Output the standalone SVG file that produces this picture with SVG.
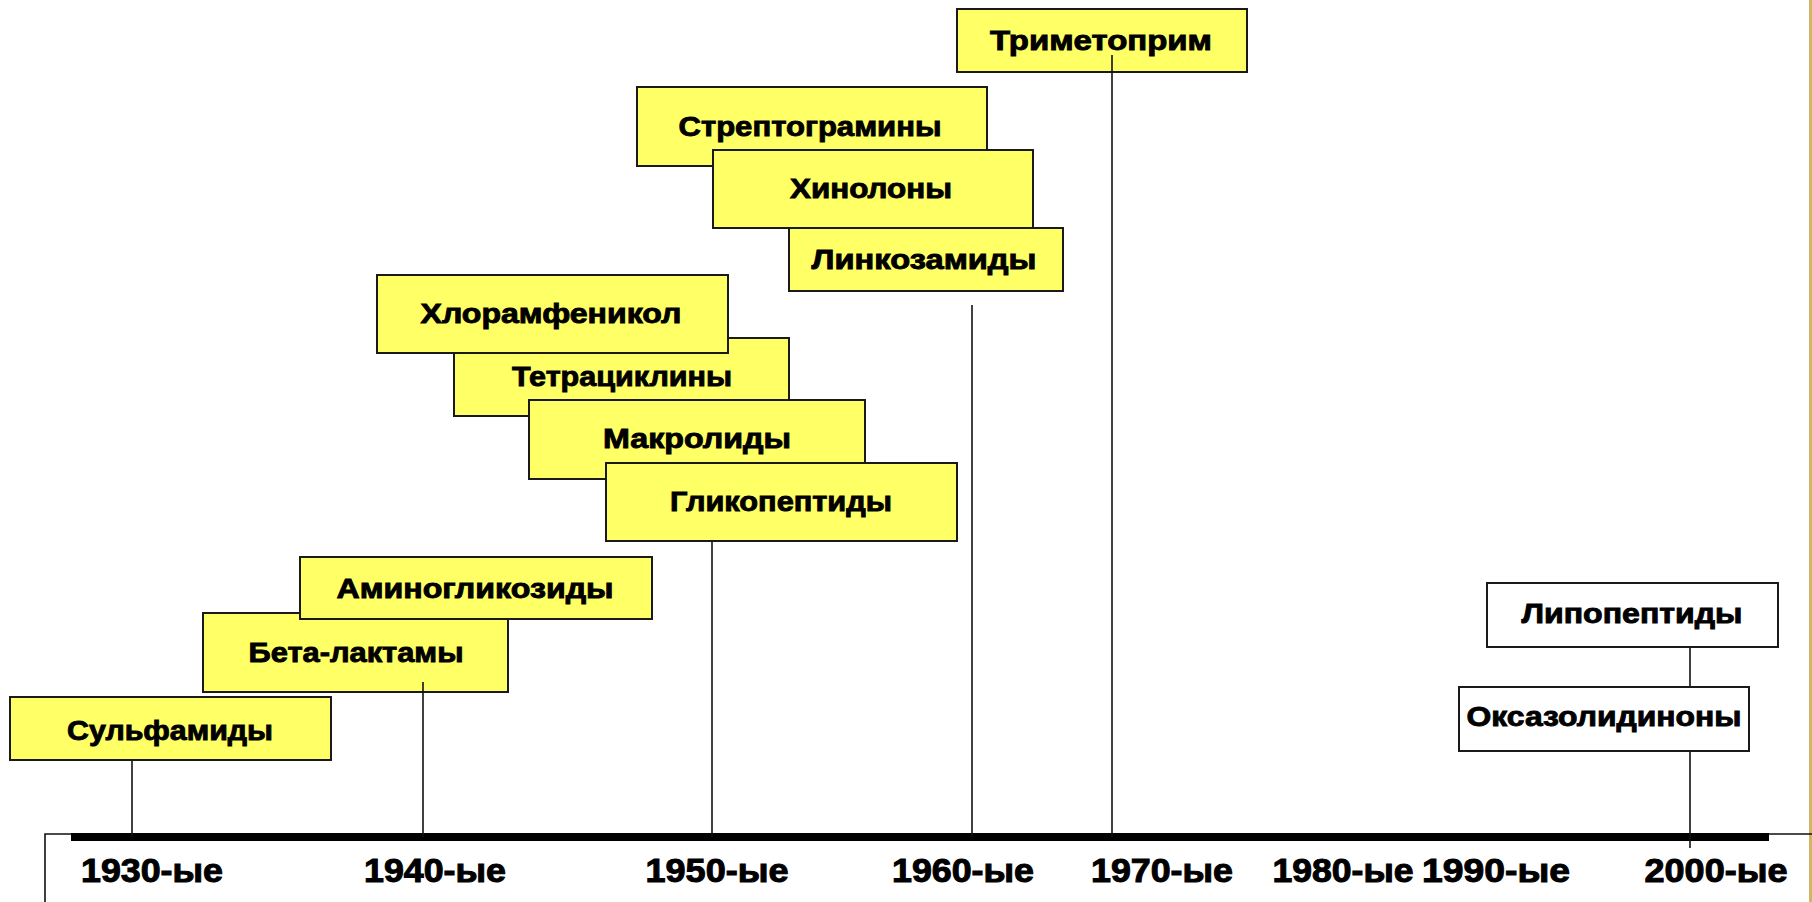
<svg xmlns="http://www.w3.org/2000/svg" width="1812" height="902" viewBox="0 0 1812 902">
<style>
.box{fill:#FFFF66;stroke:#1a1a1a;stroke-width:2}
.wbox{fill:#FFFFFF;stroke:#1a1a1a;stroke-width:2}
.lbl{font-family:"Liberation Sans",Arial,sans-serif;font-weight:bold;font-size:28px;fill:#000;stroke:#000;stroke-width:0.9;text-anchor:middle}
.yr{font-family:"Liberation Sans",Arial,sans-serif;font-weight:bold;font-size:33px;fill:#000;stroke:#000;stroke-width:1;text-anchor:middle}
.ln{stroke:#111;stroke-width:1.6;fill:none}
</style>
<rect x="0" y="0" width="1812" height="902" fill="#FFFFFF"/>
<line x1="1810.5" y1="0" x2="1810.5" y2="902" stroke="#d2b464" stroke-width="3"/>
<g id="frame">
<polyline class="ln" points="45,902 45,834 1812,834"/>
<rect x="71" y="833" width="1698" height="8" fill="#000"/>
</g>
<g id="connectors">
<line class="ln" x1="132" y1="760" x2="132" y2="837"/>
<line class="ln" x1="712" y1="541" x2="712" y2="837"/>
<line class="ln" x1="972" y1="305" x2="972" y2="837"/>
<line class="ln" x1="1690" y1="647" x2="1690" y2="687"/>
<line class="ln" x1="1690" y1="751" x2="1690" y2="848"/>
</g>
<g id="n-streptogramins"><rect class="box" x="637" y="87" width="350" height="79"/><text class="lbl" x="810" y="136" textLength="263" lengthAdjust="spacingAndGlyphs">Стрептограмины</text></g>
<g id="n-quinolones"><rect class="box" x="713" y="150" width="320" height="78"/><text class="lbl" x="871" y="198" textLength="162" lengthAdjust="spacingAndGlyphs">Хинолоны</text></g>
<g id="n-lincosamides"><rect class="box" x="789" y="228" width="274" height="63"/><text class="lbl" x="924" y="269" textLength="225" lengthAdjust="spacingAndGlyphs">Линкозамиды</text></g>
<g id="n-tetracyclines"><rect class="box" x="454" y="338" width="335" height="78"/><text class="lbl" x="622" y="386" textLength="220" lengthAdjust="spacingAndGlyphs">Тетрациклины</text></g>
<g id="n-chloramphenicol"><rect class="box" x="377" y="275" width="351" height="78"/><text class="lbl" x="551" y="323" textLength="261" lengthAdjust="spacingAndGlyphs">Хлорамфеникол</text></g>
<g id="n-macrolides"><rect class="box" x="529" y="400" width="336" height="79"/><text class="lbl" x="697" y="448" textLength="188" lengthAdjust="spacingAndGlyphs">Макролиды</text></g>
<g id="n-glycopeptides"><rect class="box" x="606" y="463" width="351" height="78"/><text class="lbl" x="781" y="511" textLength="222" lengthAdjust="spacingAndGlyphs">Гликопептиды</text></g>
<g id="n-betalactams"><rect class="box" x="203" y="613" width="305" height="79"/><text class="lbl" x="356" y="662" textLength="215" lengthAdjust="spacingAndGlyphs">Бета-лактамы</text></g>
<g id="n-aminoglycosides"><rect class="box" x="300" y="557" width="352" height="62"/><text class="lbl" x="475" y="598" textLength="277" lengthAdjust="spacingAndGlyphs">Аминогликозиды</text></g>
<g id="n-sulfonamides"><rect class="box" x="10" y="697" width="321" height="63"/><text class="lbl" x="170" y="740" textLength="206" lengthAdjust="spacingAndGlyphs">Сульфамиды</text></g>
<g id="n-trimethoprim"><rect class="box" x="957" y="9" width="290" height="63"/><text class="lbl" x="1101" y="50" textLength="222" lengthAdjust="spacingAndGlyphs">Триметоприм</text></g>
<g id="n-lipopeptides"><rect class="wbox" x="1487" y="583" width="291" height="64"/><text class="lbl" x="1632" y="623" textLength="221" lengthAdjust="spacingAndGlyphs">Липопептиды</text></g>
<g id="n-oxazolidinones"><rect class="wbox" x="1459" y="687" width="290" height="64"/><text class="lbl" x="1604" y="726" textLength="275" lengthAdjust="spacingAndGlyphs">Оксазолидиноны</text></g>
<g id="connectors-over">
<line class="ln" x1="423" y1="682" x2="423" y2="837"/>
<line class="ln" x1="1112" y1="55" x2="1112" y2="837"/>
</g>
<g id="years">
<text class="yr" x="152" y="882" textLength="142" lengthAdjust="spacingAndGlyphs">1930-ые</text>
<text class="yr" x="435" y="882" textLength="142" lengthAdjust="spacingAndGlyphs">1940-ые</text>
<text class="yr" x="717" y="882" textLength="143" lengthAdjust="spacingAndGlyphs">1950-ые</text>
<text class="yr" x="963" y="882" textLength="142" lengthAdjust="spacingAndGlyphs">1960-ые</text>
<text class="yr" x="1162" y="882" textLength="142" lengthAdjust="spacingAndGlyphs">1970-ые</text>
<text class="yr" x="1343" y="882" textLength="141" lengthAdjust="spacingAndGlyphs">1980-ые</text>
<text class="yr" x="1496" y="882" textLength="148" lengthAdjust="spacingAndGlyphs">1990-ые</text>
<text class="yr" x="1716" y="882" textLength="143" lengthAdjust="spacingAndGlyphs">2000-ые</text>
</g>
</svg>
